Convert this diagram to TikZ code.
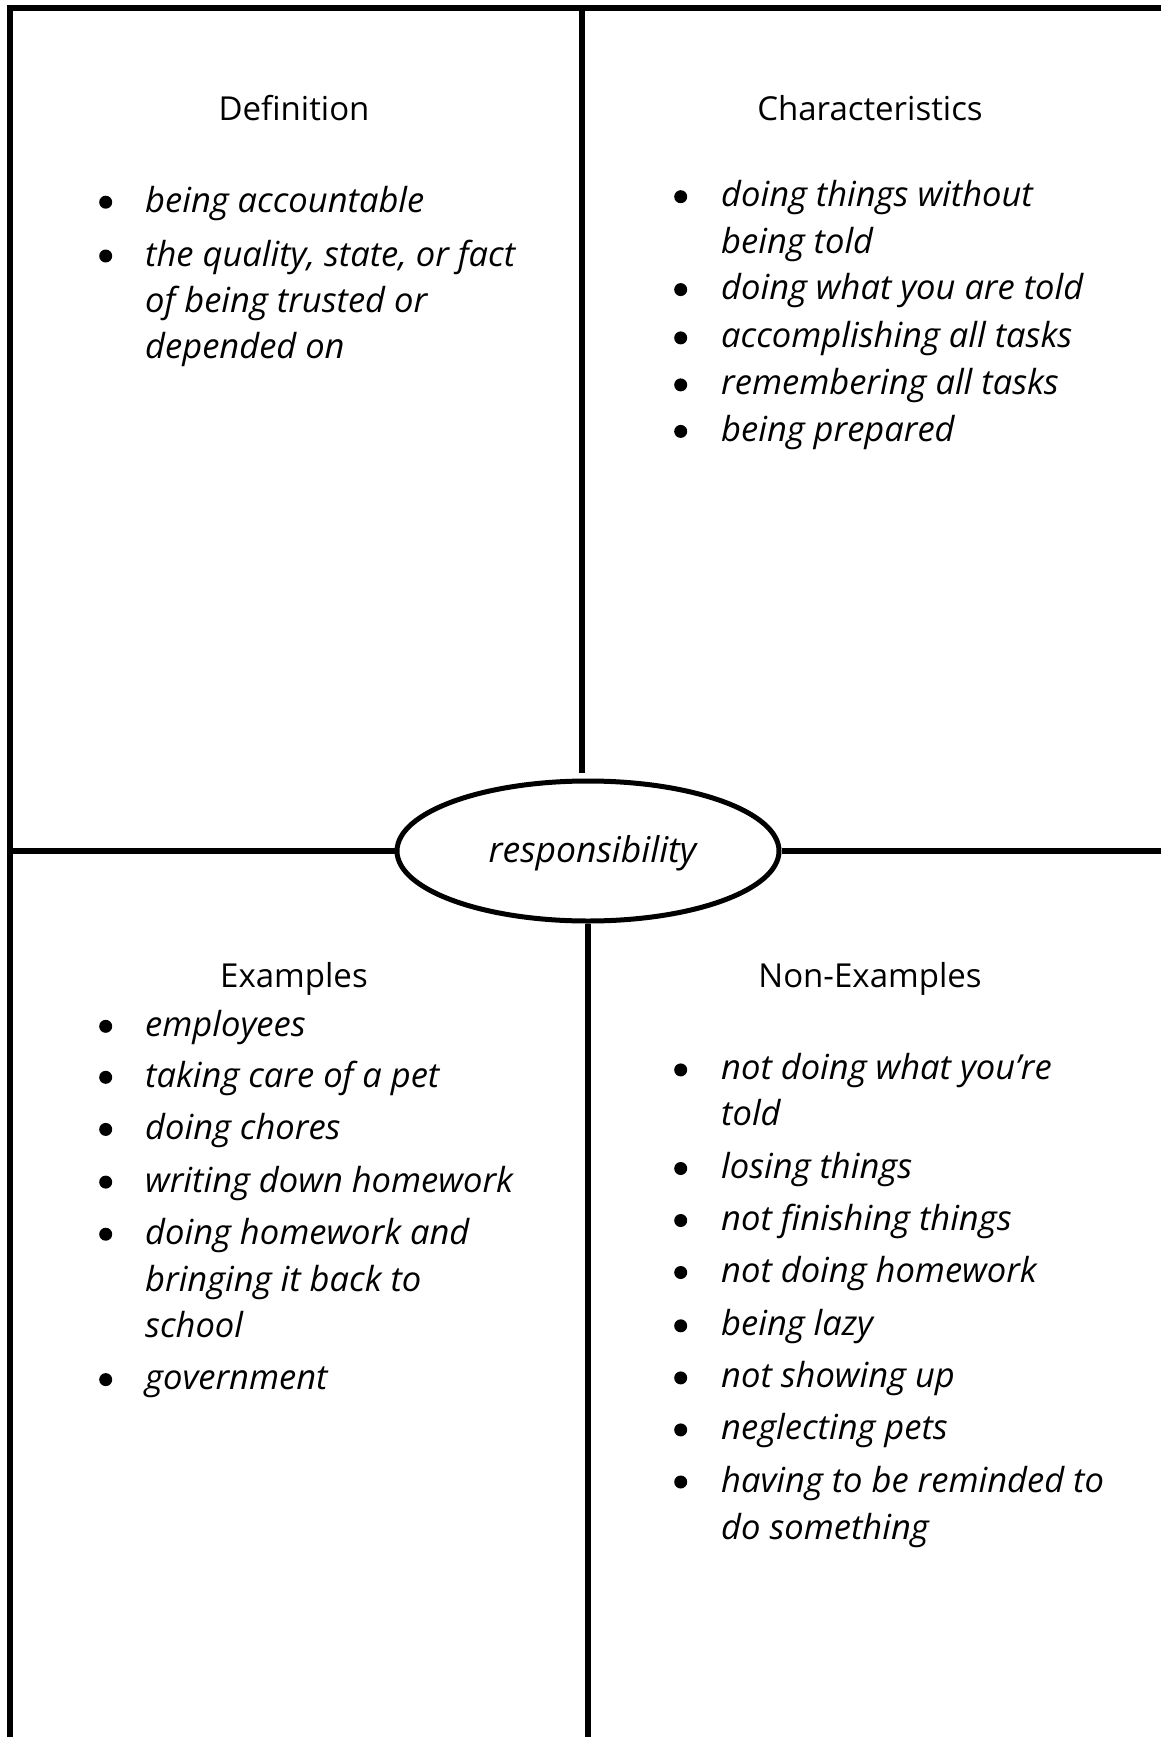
\documentclass[tikz,border=0pt]{standalone}
\usepackage{fontspec}
\setmainfont{Open Sans}
\usetikzlibrary{shapes.geometric}
\begin{document}
\begin{tikzpicture}[x=1pt,y=-1pt,
  rule/.style={line width=6pt},
  title/.style={anchor=base, font=\fontsize{33}{39}\selectfont, inner sep=0pt},
  itemtxt/.style={anchor=base west, font=\fontsize{34.5}{42}\selectfont\itshape, inner sep=0pt},
  dot/.style={circle, fill=black, inner sep=0pt, minimum size=13pt},
]
\useasboundingbox (0,0) rectangle (1161,1737);
% frame and dividers
\coordinate (tr) at (1161,8);
\coordinate (tl) at (9.5,8);
\coordinate (bl) at (9.5,1737);
\draw[rule, line join=miter] (tr) -- (tl) -- (bl);
\node[draw, ellipse, line width=5pt, minimum width=382pt, minimum height=140pt, inner sep=0pt] (core) at (588,851) {};
\node[anchor=base, font=\fontsize{35.5}{42}\selectfont\itshape, inner sep=0pt] (coretext) at (592.5,862.5) {responsibility};
\coordinate (topA) at (582,8);
\coordinate (topB) at (582,772.5);
\draw[rule] (topA) -- (topB);
\coordinate (botB) at (588,1737);
\draw[rule] (core.south) -- (botB);
\coordinate (midL) at (9.5,851);
\draw[rule] (midL) -- (core.west);
\coordinate (midR) at (1161,851);
\draw[rule] (core.east) -- (midR);
% titles
\node[title] (tdef) at (294,120) {Definition};
\node[title] (tchar) at (870,120) {Characteristics};
\node[title] (tex) at (294,987) {Examples};
\node[title] (tnon) at (870,987) {Non-Examples};
% Definition
\node[dot] (db1) at (105.7,202.2) {};
\node[itemtxt] (d1) at (145,212.2) {being accountable};
\node[dot] (db2) at (105.7,256) {};
\node[itemtxt] (d2a) at (145,266) {the quality, state, or fact};
\node[itemtxt] (d2b) at (145,312.2) {of being trusted or};
\node[itemtxt] (d2c) at (145,358.2) {depended on};
% Characteristics
\node[dot] (cb1) at (680.7,196.7) {};
\node[itemtxt] (c1a) at (721,206.7) {doing things without};
\node[itemtxt] (c1b) at (721,253.6) {being told};
\node[dot] (cb2) at (680.7,289.6) {};
\node[itemtxt] (c2) at (721,299.6) {doing what you are told};
\node[dot] (cb3) at (680.7,337.9) {};
\node[itemtxt] (c3) at (721,347.9) {accomplishing all tasks};
\node[dot] (cb4) at (680.7,384.9) {};
\node[itemtxt] (c4) at (721,394.9) {remembering all tasks};
\node[dot] (cb5) at (680.7,431.4) {};
\node[itemtxt] (c5) at (721,441.4) {being prepared};
% Examples
\node[dot] (eb1) at (105.7,1026.3) {};
\node[itemtxt] (e1) at (145,1036.3) {employees};
\node[dot] (eb2) at (105.7,1077.3) {};
\node[itemtxt] (e2) at (145,1087.3) {taking care of a pet};
\node[dot] (eb3) at (105.7,1129.4) {};
\node[itemtxt] (e3) at (145,1139.4) {doing chores};
\node[dot] (eb4) at (105.7,1182.1) {};
\node[itemtxt] (e4) at (145,1192.1) {writing down homework};
\node[dot] (eb5) at (105.7,1234.2) {};
\node[itemtxt] (e5a) at (145,1244.2) {doing homework and};
\node[itemtxt] (e5b) at (145,1291.1) {bringing it back to};
\node[itemtxt] (e5c) at (145,1337.6) {school};
\node[dot] (eb6) at (105.7,1379.6) {};
\node[itemtxt] (e6) at (145,1389.6) {government};
% Non-Examples
\node[dot] (nb1) at (680.7,1069.9) {};
\node[itemtxt] (n1a) at (721,1079.9) {not doing what you’re};
\node[itemtxt] (n1b) at (721,1125.3) {told};
\node[dot] (nb2) at (680.7,1168.5) {};
\node[itemtxt] (n2) at (721,1178.5) {losing things};
\node[dot] (nb3) at (680.7,1220.5) {};
\node[itemtxt] (n3) at (721,1230.5) {not finishing things};
\node[dot] (nb4) at (680.7,1272.5) {};
\node[itemtxt] (n4) at (721,1282.5) {not doing homework};
\node[dot] (nb5) at (680.7,1325.8) {};
\node[itemtxt] (n5) at (721,1335.8) {being lazy};
\node[dot] (nb6) at (680.7,1377.9) {};
\node[itemtxt] (n6) at (721,1387.9) {not showing up};
\node[dot] (nb7) at (680.7,1429.9) {};
\node[itemtxt] (n7) at (721,1439.9) {neglecting pets};
\node[dot] (nb8) at (680.7,1482) {};
\node[itemtxt] (n8a) at (721,1492) {having to be reminded to};
\node[itemtxt] (n8b) at (721,1539.5) {do something};
\end{tikzpicture}
\end{document}
